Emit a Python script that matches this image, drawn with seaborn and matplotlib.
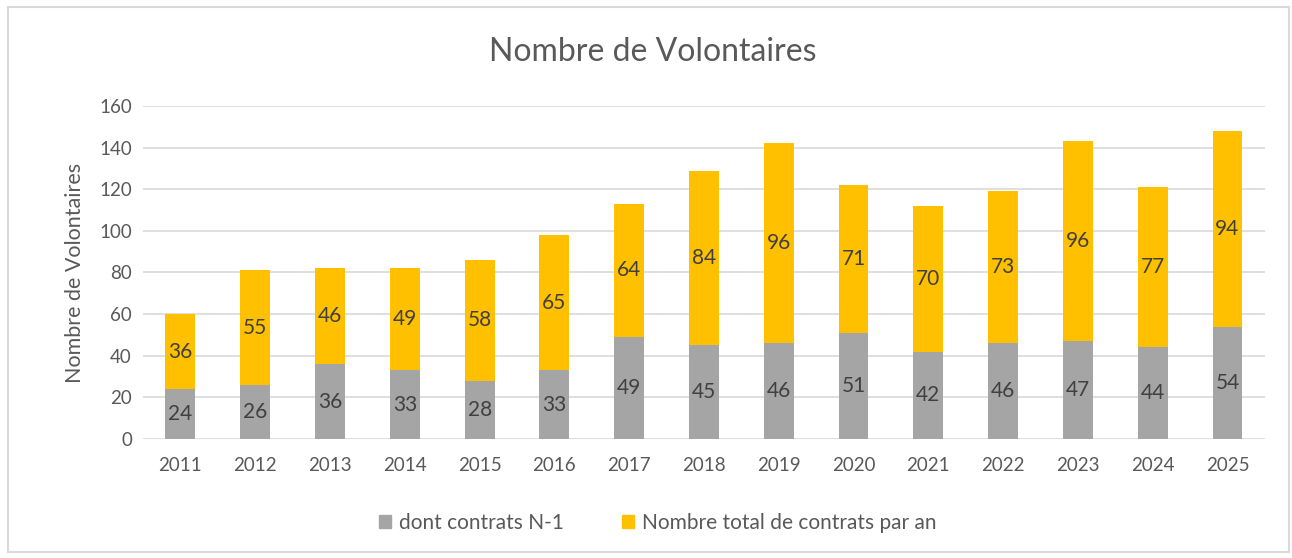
import matplotlib.pyplot as plt
import matplotlib.patches as mpatches
import seaborn as sns
import pandas as pd

# Data
years = ['2011', '2012', '2013', '2014', '2015', '2016', '2017', '2018',
         '2019', '2020', '2021', '2022', '2023', '2024', '2025']
contrats_n1 = [24, 26, 36, 33, 28, 33, 49, 45, 46, 51, 42, 46, 47, 44, 54]
contrats_an = [36, 55, 46, 49, 58, 65, 64, 84, 96, 71, 70, 73, 96, 77, 94]

GREY = '#A5A5A5'
YELLOW = '#FFC000'
TEXT = '#595959'

sns.set_style("white")
plt.rcParams['font.family'] = ['Lato', 'DejaVu Sans']

df = pd.DataFrame({'annee': years, 'n1': contrats_n1, 'an': contrats_an})
df['total'] = df['n1'] + df['an']

fig = plt.figure(figsize=(12.92, 5.58), dpi=100)
ax = fig.add_axes([0.1107, 0.2133, 0.8683, 0.5967])

# Stacked bars: total in yellow, grey part drawn over it
sns.barplot(data=df, x='annee', y='total', color=YELLOW, width=0.4,
            saturation=1, linewidth=0, ax=ax, zorder=2)
sns.barplot(data=df, x='annee', y='n1', color=GREY, width=0.4,
            saturation=1, linewidth=0, ax=ax, zorder=3)

# Value labels centred in each segment
for i, row in df.iterrows():
    ax.text(i, row['n1'] / 2, f"{row['n1']}", ha='center', va='center',
            fontsize=15, color='#404040', zorder=4)
    ax.text(i, row['n1'] + row['an'] / 2, f"{row['an']}", ha='center',
            va='center', fontsize=15, color='#404040', zorder=4)

ax.set_ylim(0, 160)
ax.set_yticks(range(0, 161, 20))
ax.set_xlim(-0.5, len(years) - 0.5)
ax.yaxis.grid(True, color='#D9D9D9', linewidth=1.2, zorder=0)
ax.set_axisbelow(True)
for s in ax.spines.values():
    s.set_visible(False)
ax.tick_params(axis='both', length=0, labelsize=13.5, colors=TEXT, pad=8)
ax.tick_params(axis='x', pad=13)
ax.set_xlabel('')
ax.set_ylabel('Nombre de Volontaires', fontsize=15.5, color=TEXT, labelpad=10)

fig.text(0.505, 0.907, 'Nombre de Volontaires', ha='center', va='center',
         fontsize=23, color=TEXT)

handles = [mpatches.Patch(color=GREY, label='dont contrats N-1'),
           mpatches.Patch(color=YELLOW, label='Nombre total de contrats par an')]
fig.legend(handles=handles, loc='center', bbox_to_anchor=(0.509, 0.063),
           ncol=2, frameon=False, fontsize=15, labelcolor=TEXT,
           handlelength=0.6, handleheight=0.6, columnspacing=2.8,
           handletextpad=0.35)

# Light frame around the whole chart
fig.patches.append(mpatches.Rectangle((0.006, 0.01), 0.992, 0.978,
                                      transform=fig.transFigure, fill=False,
                                      edgecolor='#D9D9D9', linewidth=1.5))

fig.savefig('out.png', dpi=100)
